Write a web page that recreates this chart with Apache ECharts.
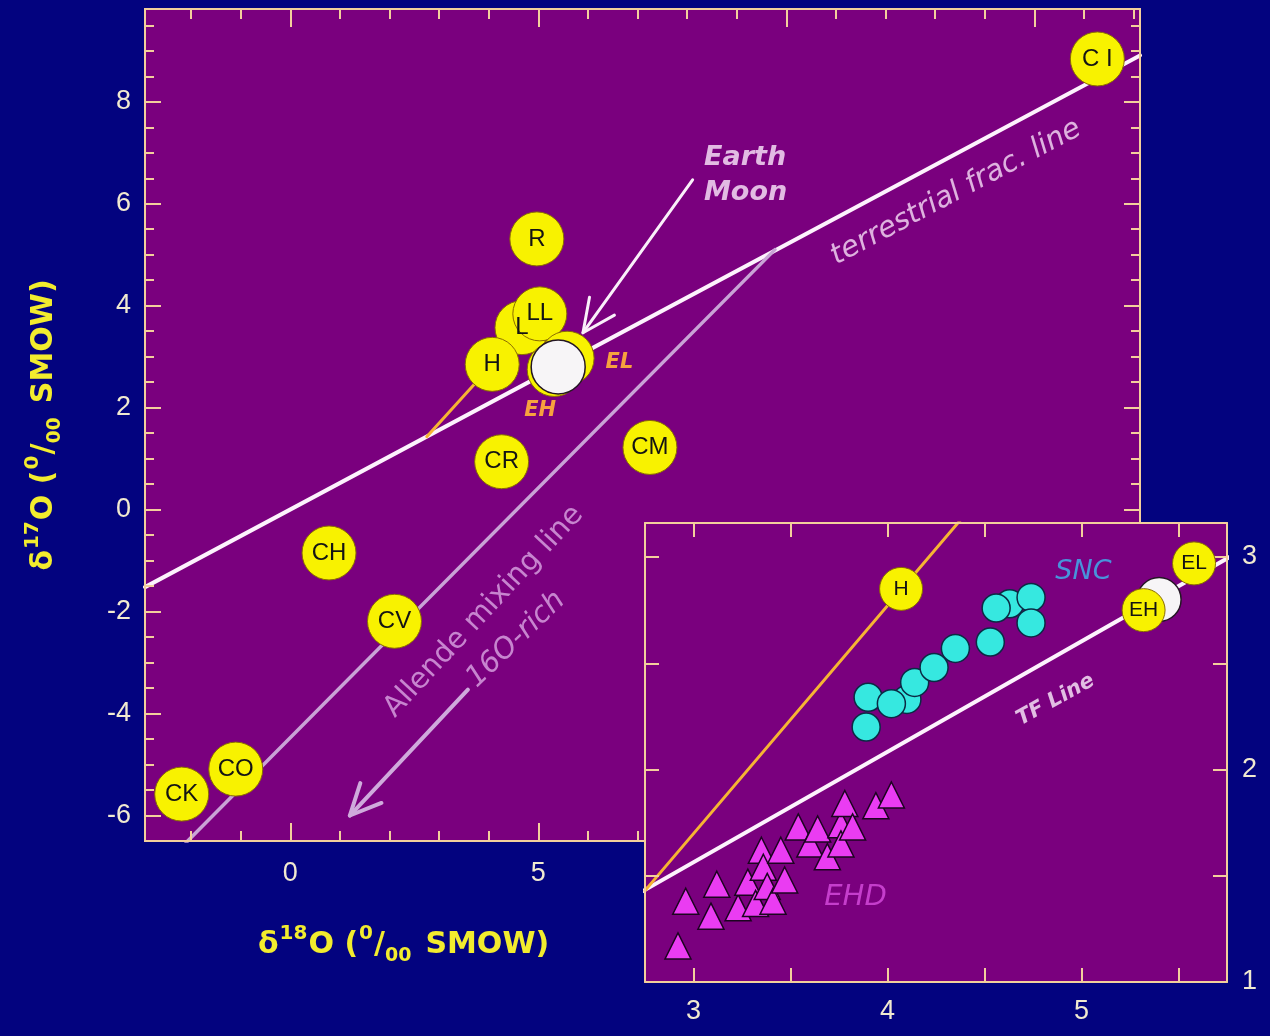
<!DOCTYPE html>
<html>
<head>
<meta charset="utf-8">
<title>Oxygen isotopes of meteorite groups</title>
<script src="https://cdn.jsdelivr.net/npm/echarts@6.0.0/dist/echarts.min.js"></script>
<style>
  html, body { margin: 0; padding: 0; background: #03037f; }
  #chart { width: 1270px; height: 1036px; }
</style>
</head>
<body>
<div id="chart"></div>
<script>
// ---- Chondrite group means: δ18O and δ17O (‰ relative to SMOW) ----
const groupNames = ['L', 'LL', 'R', 'H', 'C I', 'CR', 'CM', 'CH', 'CV', 'CO', 'CK'];
const groupD18O  = [4.67, 5.03, 4.97, 4.07, 16.27, 4.26, 7.25, 0.78, 2.10, -1.10, -2.19];
const groupD17O  = [3.57, 3.84, 5.31, 2.85, 8.84, 0.94, 1.22, -0.85, -2.19, -5.09, -5.58];

// Enstatite chondrites
const enstatiteNames = ['EH', 'EL'];
const enstatiteD18O  = [5.32, 5.58];
const enstatiteD17O  = [2.75, 2.97];

// Open white disc sitting on the fractionation line
const discD18O = [5.40];
const discD17O = [2.80];

// Martian (SNC) meteorites
const sncD18O = [4.10, 4.63, 3.89, 3.90, 4.02, 4.14, 4.24, 4.35, 4.53, 4.56, 4.74, 4.74];
const sncD17O = [2.33, 2.78, 2.20, 2.34, 2.31, 2.41, 2.48, 2.57, 2.60, 2.76, 2.81, 2.69];

// Eucrite / howardite / diogenite (EHD) meteorites
const ehdD18O = [2.92, 2.96, 3.09, 3.12, 3.23, 3.28, 3.32, 3.35, 3.36, 3.38, 3.41, 3.45,
                 3.47, 3.54, 3.60, 3.64, 3.69, 3.76, 3.76, 3.78, 3.82, 3.94, 4.02];
const ehdD17O = [1.17, 1.38, 1.31, 1.46, 1.35, 1.47, 1.37, 1.62, 1.54, 1.45, 1.38, 1.62,
                 1.48, 1.73, 1.65, 1.72, 1.59, 1.74, 1.65, 1.84, 1.73, 1.83, 1.88];

// Reference lines (end points in δ18O, δ17O)
const tfLine      = [[-2.93, -1.52], [17.13, 8.91]];   // terrestrial fractionation, slope 0.52
const allendeLine = [[-2.10, -6.53], [9.77, 5.10]];    // CAI mixing line
const hLine       = [[2.75, 1.43], [4.40, 3.20]];      // trend through H chondrites

// Arrows: tail δ18O, tail δ17O, head δ18O, head δ17O
const earthMoonArrow = [8.11, 6.47, 5.90, 3.47];
const o16RichArrow   = [3.58, -3.53, 1.20, -6.00];

// Text notes
const mainNotes  = ['Earth', 'Moon', 'terrestrial frac. line', 'Allende mixing line', '16O-rich'];
const mainNoteX  = [8.34, 8.34, 13.42, 3.90, 4.55];
const mainNoteY  = [6.90, 6.22, 6.22, -2.00, -2.55];
const insetNotes = ['SNC', 'EHD', 'TF Line'];
const insetNoteX = [5.01, 3.835, 4.866];
const insetNoteY = [2.93, 1.40, 2.327];

// Axis ranges, ticks and tick labels
const mainXRange   = [-2.93, 17.13];
const mainYRange   = [-6.5, 9.82];
const mainXMajor   = [0, 5, 10, 15];
const mainXMinor   = [-2, -1, 1, 2, 3, 4, 6, 7, 8, 9, 11, 12, 13, 14, 16, 17];
const mainXLabels  = [0, 5, 10, 15];
const mainYMajor   = [-6, -4, -2, 0, 2, 4, 6, 8];
const mainYMinor   = [-6.5, -5.5, -5, -4.5, -3.5, -3, -2.5, -1.5, -1, -0.5, 0.5, 1, 1.5,
                      2.5, 3, 3.5, 4.5, 5, 5.5, 6.5, 7, 7.5, 8.5, 9, 9.5];
const mainYLabels  = [-6, -4, -2, 0, 2, 4, 6, 8];
const insetXRange  = [2.75, 5.75];
const insetYRange  = [1, 3.16];
const insetXTicks  = [3, 3.5, 4, 4.5, 5, 5.5];
const insetXLabels = [3, 4, 5];
const insetYTicks  = [1.5, 2, 2.5, 3];
const insetYLabels = [1, 2, 3];

// ---- styling ----
const PURPLE = '#7a007e';
const FRAME  = '#f3cf9c';
const TITLE_YELLOW = '#f2ec2e';
const TICK_FONT = {
  color: '#f1ead0', fontSize: 27,
  fontFamily: "'Liberation Sans Narrow','Liberation Sans',Arial,sans-serif"
};
const CIRCLE_YELLOW = '#f8f200';

function frameAxis(gridIndex, position, range, ticks, tickLen, labels, margin, zlevel) {
  return {
    type: 'value', gridIndex, position, min: range[0], max: range[1],
    zlevel: zlevel || 0, z: 3,
    axisLine: { show: true, onZero: false, lineStyle: { color: FRAME, width: 2 } },
    axisTick: { show: true, inside: true, length: tickLen, customValues: ticks,
                lineStyle: { color: FRAME, width: 2 } },
    axisLabel: labels
      ? Object.assign({ show: true, customValues: labels, margin }, TICK_FONT)
      : { show: false },
    splitLine: { show: false },
    minorTick: { show: false }
  };
}

const deltaRich = {
  s: { fontSize: 20, lineHeight: 20, verticalAlign: 'top', color: TITLE_YELLOW,
       fontWeight: 'bold', fontFamily: 'DejaVu Sans', padding: [0, 1, 0, 1] },
  b: { fontSize: 19, lineHeight: 19, verticalAlign: 'bottom', color: TITLE_YELLOW,
       fontWeight: 'bold', fontFamily: 'DejaVu Sans', padding: [0, 14, 0, 0] }
};
const titleFont = {
  color: TITLE_YELLOW, fontSize: 30, fontWeight: 'bold', fontFamily: 'DejaVu Sans',
  lineHeight: 42, rich: deltaRich
};

const MAIN  = { xAxisIndex: 0, yAxisIndex: 0 };
const INSET = { xAxisIndex: 4, yAxisIndex: 4, zlevel: 1 };

function segment(points, color, width, axes, z) {
  return Object.assign({
    type: 'line', data: points, symbol: 'none', silent: true, clip: true, z,
    lineStyle: { color, width, cap: 'round', opacity: 1 }
  }, axes);
}

function arrow(spec, color, width, headLen) {
  return Object.assign({
    type: 'custom', silent: true, z: 6, clip: false,
    data: [spec],
    encode: { x: [0, 2], y: [1, 3] },
    renderItem(params, api) {
      const a = api.coord([api.value(0), api.value(1)]);
      const b = api.coord([api.value(2), api.value(3)]);
      const ang = Math.atan2(a[1] - b[1], a[0] - b[0]);
      const spread = 0.44;
      const p1 = [b[0] + headLen * Math.cos(ang + spread), b[1] + headLen * Math.sin(ang + spread)];
      const p2 = [b[0] + headLen * Math.cos(ang - spread), b[1] + headLen * Math.sin(ang - spread)];
      const style = { stroke: color, lineWidth: width, fill: null, lineCap: 'round', lineJoin: 'round' };
      return {
        type: 'group',
        children: [
          { type: 'line', shape: { x1: a[0], y1: a[1], x2: b[0], y2: b[1] }, style },
          { type: 'polyline', shape: { points: [p1, b, p2] }, style }
        ]
      };
    }
  }, MAIN);
}

const noteStyle = {
  'Earth': { color: '#fdeafd', fontSize: 27, fontStyle: 'italic', fontWeight: 'bold', align: 'left', rotate: 0 },
  'Moon': { color: '#fdeafd', fontSize: 27, fontStyle: 'italic', fontWeight: 'bold', align: 'left', rotate: 0 },
  'terrestrial frac. line': { color: '#f8def8', fontSize: 29, fontStyle: 'italic', fontWeight: 'normal', align: 'center', rotate: 28 },
  'Allende mixing line': { color: '#dba6e4', fontSize: 29, fontStyle: 'normal', fontWeight: 'normal', align: 'center', rotate: 47 },
  '16O-rich': { color: '#dba6e4', fontSize: 29, fontStyle: 'italic', fontWeight: 'normal', align: 'center', rotate: 44 },
  'SNC': { color: '#3cb8f2', fontSize: 27, fontStyle: 'italic', fontWeight: 'normal', align: 'center', rotate: 0 },
  'EHD': { color: '#d84ee0', fontSize: 29, fontStyle: 'italic', fontWeight: 'normal', align: 'center', rotate: 0 },
  'TF Line': { color: '#fdeefd', fontSize: 21, fontStyle: 'italic', fontWeight: 'bold', align: 'center', rotate: 29 }
};

function notes(texts, xs, ys, axes) {
  return Object.assign({
    type: 'scatter', silent: true, z: 7, symbolSize: 1,
    itemStyle: { color: 'rgba(0,0,0,0)' },
    data: texts.map((t, i) => {
      const st = noteStyle[t];
      return {
        value: [xs[i], ys[i]],
        label: {
          show: true, position: 'inside', formatter: t,
          color: st.color, fontSize: st.fontSize, fontStyle: st.fontStyle,
          fontWeight: st.fontWeight, fontFamily: 'DejaVu Sans',
          align: st.align, verticalAlign: 'middle', rotate: st.rotate
        }
      };
    })
  }, axes);
}

const circleLabel = { show: true, position: 'inside', formatter: '{b}', color: '#141414',
                      fontFamily: "'Liberation Sans',Arial,sans-serif" };
const yellowDisc = { color: CIRCLE_YELLOW, borderColor: '#8a6c00', borderWidth: 1, opacity: 1 };
const whiteDisc  = { color: '#f7f5f7', borderColor: '#241624', borderWidth: 1.5, opacity: 1 };

const enstatiteOuterLabel = {
  EH: { position: 'bottom', distance: 3, offset: [-14, 0] },
  EL: { position: 'right', distance: 11, offset: [0, 4] }
};

const option = {
  backgroundColor: '#03037f',
  animation: false,
  tooltip: { show: false },
  title: [{
    text: 'δ{s|18}O ({s|0}/{b|00}SMOW)',
    left: 258, top: 924, padding: 0,
    textStyle: titleFont
  }],
  grid: [
    { left: 145, top: 9, width: 995, height: 832, show: true, backgroundColor: PURPLE,
      borderWidth: 0, outerBoundsMode: 'none', containLabel: false },
    { left: 645, top: 523, width: 582, height: 459, show: true, backgroundColor: PURPLE,
      borderWidth: 0, zlevel: 1, outerBoundsMode: 'none', containLabel: false }
  ],
  xAxis: [
    frameAxis(0, 'bottom', mainXRange, mainXMajor, 18, mainXLabels, 19),
    frameAxis(0, 'bottom', mainXRange, mainXMinor, 10, null, 0),
    frameAxis(0, 'top', mainXRange, mainXMajor, 18, null, 0),
    frameAxis(0, 'top', mainXRange, mainXMinor, 10, null, 0),
    frameAxis(1, 'bottom', insetXRange, insetXTicks, 14, insetXLabels, 16, 1),
    frameAxis(1, 'top', insetXRange, insetXTicks, 14, null, 0, 1)
  ],
  yAxis: [
    Object.assign(frameAxis(0, 'left', mainYRange, mainYMajor, 16, mainYLabels, 14), {
      name: 'δ{s|17}O ({s|0}/{b|00}SMOW)',
      nameLocation: 'middle', nameRotate: 90, nameGap: 80,
      nameTextStyle: titleFont
    }),
    frameAxis(0, 'left', mainYRange, mainYMinor, 9, null, 0),
    frameAxis(0, 'right', mainYRange, mainYMajor, 16, null, 0),
    frameAxis(0, 'right', mainYRange, mainYMinor, 9, null, 0),
    frameAxis(1, 'right', insetYRange, insetYTicks, 14, insetYLabels, 15, 1),
    frameAxis(1, 'left', insetYRange, insetYTicks, 14, null, 0, 1)
  ],
  series: [
    // ---- main diagram ----
    segment(tfLine, '#fdf2fd', 4, MAIN, 2),
    segment(allendeLine, '#c9a3d6', 3.5, MAIN, 2),
    segment(hLine, '#f6b433', 3, MAIN, 2),
    Object.assign({
      type: 'scatter', silent: true, z: 3, symbolSize: 54,
      itemStyle: yellowDisc,
      label: Object.assign({ fontSize: 24 }, circleLabel),
      data: groupNames.map((n, i) => ({ name: n, value: [groupD18O[i], groupD17O[i]] }))
    }, MAIN),
    Object.assign({
      type: 'scatter', silent: true, z: 3, symbolSize: 54,
      itemStyle: yellowDisc,
      data: enstatiteNames.map((n, i) => ({
        name: n, value: [enstatiteD18O[i], enstatiteD17O[i]],
        label: Object.assign({
          show: true, formatter: '{b}', color: '#f7a23e', fontSize: 21,
          fontStyle: 'italic', fontWeight: 'bold', fontFamily: 'DejaVu Sans'
        }, enstatiteOuterLabel[n])
      }))
    }, MAIN),
    Object.assign({
      type: 'scatter', silent: true, z: 4, symbolSize: 54,
      itemStyle: whiteDisc,
      data: discD18O.map((x, i) => [x, discD17O[i]])
    }, MAIN),
    arrow(earthMoonArrow, '#faf0fa', 3, 36),
    arrow(o16RichArrow, '#cfaadc', 4, 34),
    notes(mainNotes, mainNoteX, mainNoteY, MAIN),

    // ---- inset ----
    segment(tfLine, '#fdf2fd', 4, INSET, 2),
    segment(hLine, '#f6b433', 3, INSET, 2),
    Object.assign({
      type: 'scatter', silent: true, z: 3, symbolSize: 28,
      itemStyle: { color: '#36e8e0', borderColor: '#0b2a44', borderWidth: 1.5, opacity: 1 },
      data: sncD18O.map((x, i) => [x, sncD17O[i]])
    }, INSET),
    Object.assign({
      type: 'scatter', silent: true, z: 3, symbol: 'triangle', symbolSize: 26,
      itemStyle: { color: '#ea3cf2', borderColor: '#1c0420', borderWidth: 1.5, opacity: 1 },
      data: ehdD18O.map((x, i) => [x, ehdD17O[i]])
    }, INSET),
    Object.assign({
      type: 'scatter', silent: true, z: 3, symbolSize: 44,
      itemStyle: whiteDisc,
      data: discD18O.map((x, i) => [x, discD17O[i]])
    }, INSET),
    Object.assign({
      type: 'scatter', silent: true, z: 4, symbolSize: 43,
      itemStyle: yellowDisc,
      label: Object.assign({ fontSize: 21 }, circleLabel),
      data: [{ name: 'H', value: [groupD18O[3], groupD17O[3]] }].concat(
        enstatiteNames.map((n, i) => ({ name: n, value: [enstatiteD18O[i], enstatiteD17O[i]] })))
    }, INSET),
    notes(insetNotes, insetNoteX, insetNoteY, INSET)
  ]
};

const chart = echarts.init(document.getElementById('chart'), null, { renderer: 'canvas' });
chart.setOption(option);
</script>
</body>
</html>
